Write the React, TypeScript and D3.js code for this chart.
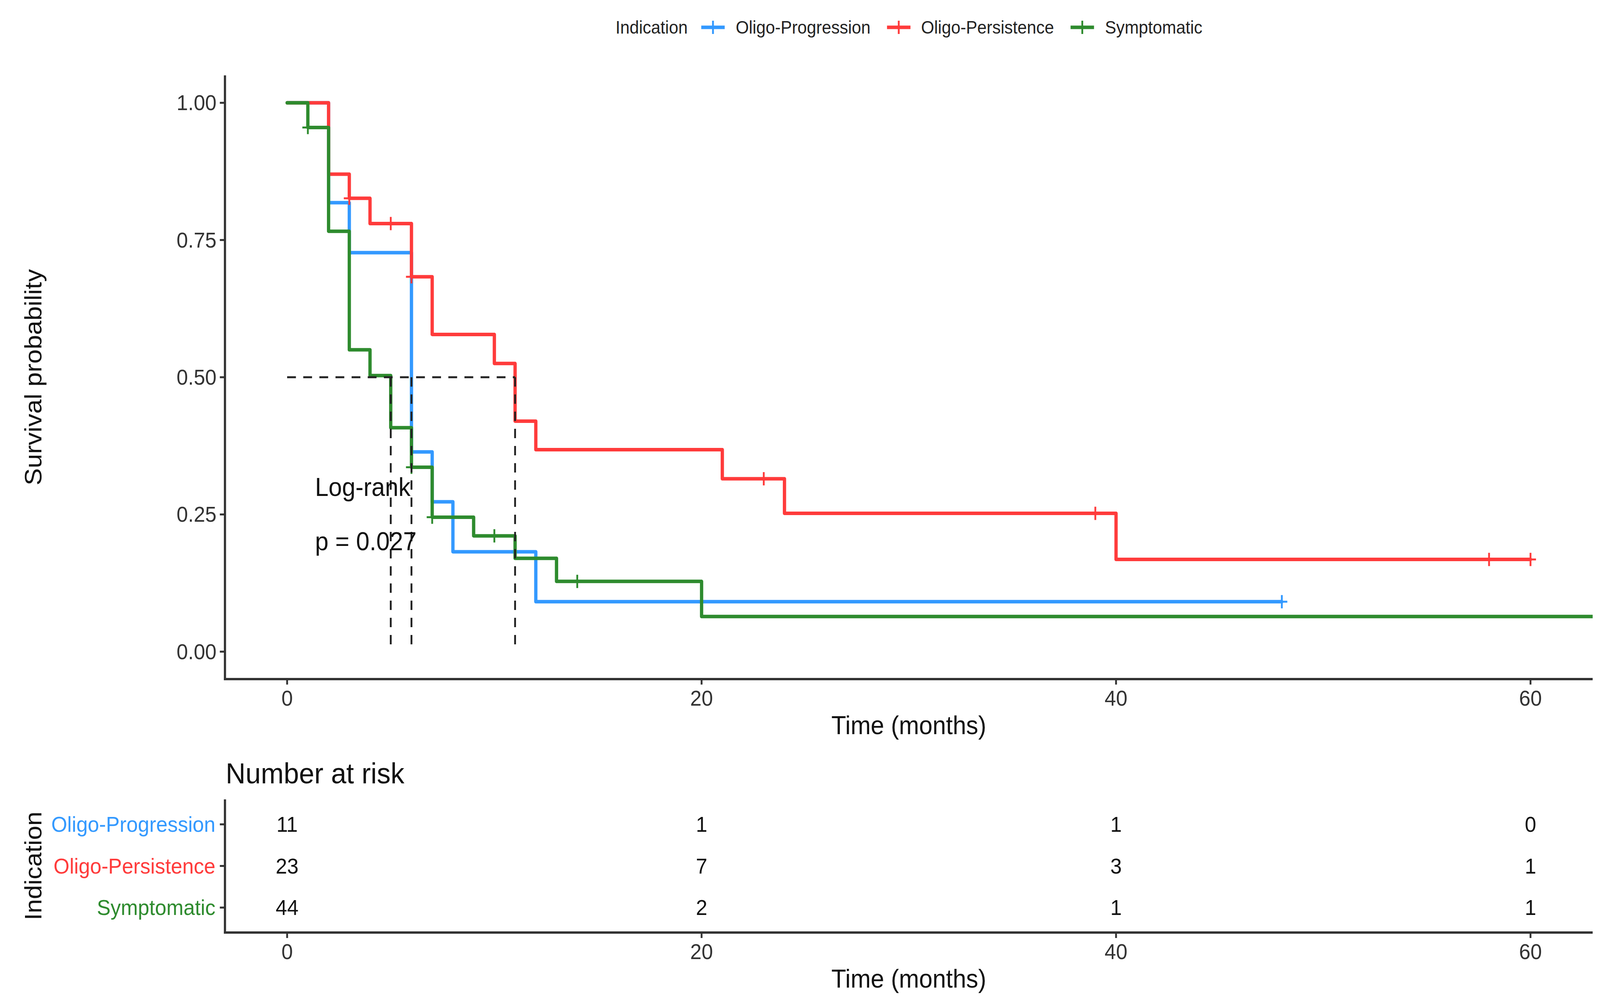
import React from "react";
import * as d3 from "d3";

// ---------- data ----------
const strata = ["Oligo-Progression", "Oligo-Persistence", "Symptomatic"];
const colors = ["#3399FF", "#FF3B3B", "#2E8B2E"];

const progTimes = [0, 2, 3, 6, 7, 8, 12, 48];
const progSurv = [1, 0.818, 0.727, 0.364, 0.273, 0.182, 0.091, 0.091];
const progCensorT = [48];
const progCensorS = [0.091];

const persTimes = [0, 2, 3, 4, 6, 7, 10, 11, 12, 21, 24, 40, 60];
const persSurv = [1, 0.87, 0.826, 0.78, 0.683, 0.578, 0.525, 0.42, 0.368, 0.315, 0.252, 0.168, 0.168];
const persCensorT = [3, 5, 6, 23, 39, 58, 60];
const persCensorS = [0.826, 0.78, 0.683, 0.315, 0.252, 0.168, 0.168];

const sympTimes = [0, 1, 2, 3, 4, 5, 6, 7, 9, 11, 13, 20, 64];
const sympSurv = [1, 0.955, 0.766, 0.55, 0.503, 0.408, 0.336, 0.245, 0.211, 0.17, 0.128, 0.064, 0.064];
const sympCensorT = [1, 6, 7, 10, 14];
const sympCensorS = [0.955, 0.336, 0.245, 0.211, 0.128];

const medians = [6, 11, 5];

const xTicks = [0, 20, 40, 60];
const yTicks = [0, 0.25, 0.5, 0.75, 1];
const riskProg = [11, 1, 1, 0];
const riskPers = [23, 7, 3, 1];
const riskSymp = [44, 2, 1, 1];

const pText = ["Log-rank", "p = 0.027"];

// ---------- layout ----------
const W = 4367;
const H = 2571;
const FONT = "'Liberation Sans', Arial, Helvetica, sans-serif";

export default function App() {
  const x = d3.scaleLinear().domain([-3, 63]).range([614, 4347]);
  const y = d3.scaleLinear().domain([-0.05, 1.05]).range([1739, 193]);
  const yRisk = d3.scalePoint<string>().domain(strata).range([2047, 2388]).padding(0.6);

  const series = [
    { t: progTimes, s: progSurv, ct: progCensorT, cs: progCensorS },
    { t: persTimes, s: persSurv, ct: persCensorT, cs: persCensorS },
    { t: sympTimes, s: sympSurv, ct: sympCensorT, cs: sympCensorS },
  ];
  const risks = [riskProg, riskPers, riskSymp];

  const line = d3
    .line<[number, number]>()
    .x((d) => x(d[0]))
    .y((d) => y(d[1]))
    .curve(d3.curveStepAfter);

  const axisColor = "#333333";
  const axisW = 6;
  const tickLen = 14;
  const [xL, xR] = x.range();
  const [yB, yT] = y.range();
  const riskTop = 2047;
  const riskBot = 2388;

  const maxMed = d3.max(medians) as number;

  const legendItems = [
    { label: strata[0], kx: 1946, tx: 2008 },
    { label: strata[1], kx: 2453, tx: 2514 },
    { label: strata[2], kx: 2954, tx: 3016 },
  ];

  return (
    <svg
      viewBox={`0 0 ${W} ${H}`}
      preserveAspectRatio="none"
      style={{ position: "absolute", left: 0, top: 0, width: "100vw", height: "100vh", background: "#fff", display: "block" }}
      fontFamily={FONT}
    >
      <defs>
        <clipPath id="panel">
          <rect x={xL} y={yT} width={xR - xL} height={yB - yT} />
        </clipPath>
      </defs>
      <rect x={0} y={0} width={W} height={H} fill="#fff" />

      {/* legend */}
      <g>
        <text x={1680} y={70} fontSize={46} fill="#222" dominantBaseline="central">
          Indication
        </text>
        {legendItems.map((it, i) => (
          <g key={it.label}>
            <line x1={it.kx - 32} x2={it.kx + 32} y1={70} y2={70} stroke={colors[i]} strokeWidth={9} />
            <line x1={it.kx} x2={it.kx} y1={53} y2={87} stroke={colors[i]} strokeWidth={5} />
            <text x={it.tx} y={70} fontSize={46} fill="#222" dominantBaseline="central">
              {it.label}
            </text>
          </g>
        ))}
      </g>

      {/* survival curves */}
      <g clipPath="url(#panel)">
        {series.map((sr, i) => (
          <path
            key={i}
            d={line(sr.t.map((t, j) => [t, sr.s[j]] as [number, number])) || ""}
            fill="none"
            stroke={colors[i]}
            strokeWidth={9}
            strokeLinejoin="round"
            strokeLinecap="round"
          />
        ))}
        {series.map((sr, i) =>
          sr.ct.map((t, j) => (
            <g key={`c${i}-${j}`} stroke={colors[i]}>
              <line x1={x(t) - 15} x2={x(t) + 15} y1={y(sr.cs[j])} y2={y(sr.cs[j])} strokeWidth={5} />
              <line x1={x(t)} x2={x(t)} y1={y(sr.cs[j]) - 17} y2={y(sr.cs[j]) + 17} strokeWidth={5} />
            </g>
          ))
        )}
      </g>

      {/* median lines */}
      <g stroke="#222" strokeWidth={5} strokeDasharray="24 20" fill="none">
        <line x1={x(0)} x2={x(maxMed)} y1={y(0.5)} y2={y(0.5)} />
        {medians.map((m, i) => (
          <line key={i} x1={x(m)} x2={x(m)} y1={y(0.5)} y2={y(0)} />
        ))}
      </g>

      {/* p-value */}
      <text x={860} y={1247} fontSize={66} fill="#111" dominantBaseline="central">
        {pText[0]}
      </text>
      <text x={860} y={1386} fontSize={66} fill="#111" dominantBaseline="central">
        {pText[1]}
      </text>

      {/* main axes */}
      <line x1={xL} x2={xL} y1={yT} y2={yB + axisW / 2} stroke={axisColor} strokeWidth={axisW} />
      <line x1={xL - axisW / 2} x2={xR} y1={yB} y2={yB} stroke={axisColor} strokeWidth={axisW} />
      {yTicks.map((v) => (
        <g key={v}>
          <line x1={xL - tickLen} x2={xL} y1={y(v)} y2={y(v)} stroke={axisColor} strokeWidth={5} />
          <text x={591} y={y(v)} fontSize={56} fill="#333" textAnchor="end" dominantBaseline="central">
            {d3.format(".2f")(v)}
          </text>
        </g>
      ))}
      {xTicks.map((v) => (
        <g key={v}>
          <line x1={x(v)} x2={x(v)} y1={yB} y2={yB + tickLen} stroke={axisColor} strokeWidth={5} />
          <text x={x(v)} y={1788} fontSize={56} fill="#333" textAnchor="middle" dominantBaseline="central">
            {v}
          </text>
        </g>
      ))}
      <text x={(xL + xR) / 2} y={1857} fontSize={66} fill="#111" textAnchor="middle" dominantBaseline="central">
        Time (months)
      </text>
      <text
        transform={`translate(90,${(yT + yB) / 2}) rotate(-90)`}
        fontSize={66}
        fill="#111"
        textAnchor="middle"
        dominantBaseline="central"
      >
        Survival probability
      </text>

      {/* risk table */}
      <text x={616} y={1980} fontSize={75} fill="#111" dominantBaseline="central">
        Number at risk
      </text>
      <line x1={xL} x2={xL} y1={riskTop} y2={riskBot + axisW / 2} stroke={axisColor} strokeWidth={axisW} />
      <line x1={xL - axisW / 2} x2={xR} y1={riskBot} y2={riskBot} stroke={axisColor} strokeWidth={axisW} />
      {strata.map((s, i) => (
        <g key={s}>
          <line x1={xL - tickLen} x2={xL} y1={yRisk(s)} y2={yRisk(s)} stroke={axisColor} strokeWidth={5} />
          <text x={588} y={yRisk(s)} fontSize={56} fill={colors[i]} textAnchor="end" dominantBaseline="central">
            {s}
          </text>
          {risks[i].map((n, j) => (
            <text
              key={j}
              x={x(xTicks[j])}
              y={yRisk(s)}
              fontSize={56}
              fill="#111"
              textAnchor="middle"
              dominantBaseline="central"
            >
              {n}
            </text>
          ))}
        </g>
      ))}
      {xTicks.map((v) => (
        <g key={`r${v}`}>
          <line x1={x(v)} x2={x(v)} y1={riskBot} y2={riskBot + tickLen} stroke={axisColor} strokeWidth={5} />
          <text x={x(v)} y={2437} fontSize={56} fill="#333" textAnchor="middle" dominantBaseline="central">
            {v}
          </text>
        </g>
      ))}
      <text x={(xL + xR) / 2} y={2506} fontSize={66} fill="#111" textAnchor="middle" dominantBaseline="central">
        Time (months)
      </text>
      <text
        transform={`translate(90,${yRisk(strata[1])}) rotate(-90)`}
        fontSize={65}
        fill="#111"
        textAnchor="middle"
        dominantBaseline="central"
      >
        Indication
      </text>
    </svg>
  );
}
